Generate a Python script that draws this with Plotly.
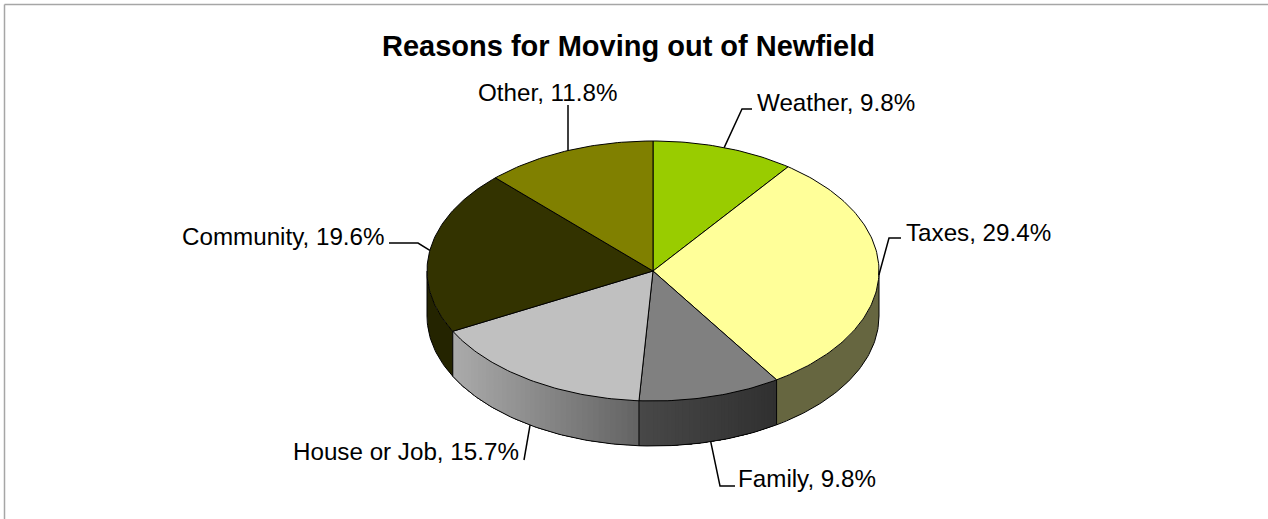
import math
import plotly.graph_objects as go

# ---- data ----
categories = ["Weather", "Taxes", "Family", "House or Job", "Community", "Other"]
percents = [9.8, 29.4, 9.8, 15.7, 19.6, 11.8]
top_colors = ["#99CC00", "#FFFF99", "#808080", "#C0C0C0", "#333300", "#808000"]
side_left = ["#4d6600", "#666640", "#484848", "#ABABAB", "#242400", "#404000"]
side_right = ["#4d6600", "#666640", "#303030", "#636363", "#242400", "#404000"]
title_text = "Reasons for Moving out of Newfield"

# ---- layout constants ----
W, H = 1268, 519
CX, CY, RX, RY, DEPTH = 653, 271, 226, 130, 45
label_pos = [(755, 102.5), (904, 232), (736, 478.5), (521, 451.5), (386.5, 236), (619, 92.5)]
label_anchor = ["left", "left", "left", "right", "right", "right"]
leader_tail = [[(742, 109), (752, 109)], [(889, 238), (901, 238)], [(720, 486), (735, 486)],
               [(524, 460)], [(418, 243), (389, 243)], [(568, 105)]]


def pt(deg, drop=0):
    a = math.radians(deg)
    return CX + RX * math.sin(a), CY - RY * math.cos(a) + drop


def arc(a0, a1, drop=0, step=1.0):
    n = max(2, int(abs(a1 - a0) / step) + 1)
    return [pt(a0 + (a1 - a0) * i / (n - 1), drop) for i in range(n)]


def mix(c0, c1, t):
    p = [int(c0[i:i + 2], 16) for i in (1, 3, 5)]
    q = [int(c1[i:i + 2], 16) for i in (1, 3, 5)]
    return "rgb(%d,%d,%d)" % tuple(round(u + (v - u) * t) for u, v in zip(p, q))


def poly(points, fill=None, line="#000000", width=1.0, closed=True):
    xs = [p[0] for p in points]
    ys = [p[1] for p in points]
    if closed:
        xs.append(xs[0])
        ys.append(ys[0])
    return go.Scatter(x=xs, y=ys, mode="lines", fill="toself" if fill else "none",
                      fillcolor=fill, line=dict(color=line, width=width),
                      hoverinfo="skip", showlegend=False)


total = sum(percents)
bounds = [0.0]
for v in percents:
    bounds.append(bounds[-1] + v / total * 360)

fig = go.Figure()

# side wall: only the front half (90..270 degrees clockwise from top) is visible
for i in range(len(percents)):
    a0, a1 = max(bounds[i], 90), min(bounds[i + 1], 270)
    if a1 <= a0:
        continue
    x0, x1 = pt(a0)[0], pt(a1)[0]
    n = 40 if side_left[i] != side_right[i] else 1
    for k in range(n):
        # each strip runs on to the slice's end, the next one paints over it: no seams
        s0 = a0 + (a1 - a0) * k / n
        s1 = a0 + (a1 - a0) * (k + 1) / n
        xm = pt((s0 + s1) / 2)[0]
        t = (xm - min(x0, x1)) / abs(x1 - x0)
        col = mix(side_left[i], side_right[i], t)
        fig.add_trace(poly(arc(s0, a1) + arc(a1, s0, DEPTH), fill=col, line=col, width=0))
    fig.add_trace(poly(arc(a0, a1, DEPTH), width=1, closed=False))
    if 90 < bounds[i] < 270:
        fig.add_trace(poly([pt(bounds[i]), pt(bounds[i], DEPTH)], width=1, closed=False))
fig.add_trace(poly([pt(90), pt(90, DEPTH)], width=1, closed=False))
fig.add_trace(poly([pt(270), pt(270, DEPTH)], width=1, closed=False))

# top faces
for i in range(len(percents)):
    pts = [(CX, CY)] + arc(bounds[i], bounds[i + 1])
    fig.add_trace(poly(pts, fill=top_colors[i], width=1))

# leader lines, starting on the rim at each slice's middle angle
for i in range(len(percents)):
    mid = (bounds[i] + bounds[i + 1]) / 2
    front = 95 < mid < 265
    start = pt(mid, DEPTH if front else 0)
    fig.add_trace(poly([start] + leader_tail[i], width=1.5, closed=False))

annotations = [
    dict(x=label_pos[i][0], y=label_pos[i][1], xref="x", yref="y",
         text=f"{categories[i]}, {percents[i]}%", showarrow=False,
         xanchor=label_anchor[i], yanchor="middle",
         font=dict(family="Liberation Sans", size=24.2, color="#000000"))
    for i in range(len(percents))
]
annotations.append(dict(x=628, y=46, xref="x", yref="y", text=f"<b>{title_text}</b>",
                        showarrow=False, xanchor="center", yanchor="middle",
                        font=dict(family="Liberation Sans", size=29, color="#000000")))

border = dict(color="#A6A6A6", width=1.5)
fig.update_layout(
    width=W, height=H, margin=dict(l=0, r=0, t=0, b=0),
    paper_bgcolor="#FFFFFF", plot_bgcolor="#FFFFFF", showlegend=False,
    xaxis=dict(range=[0, W], visible=False, fixedrange=True),
    yaxis=dict(range=[H, 0], visible=False, fixedrange=True),
    annotations=annotations,
    shapes=[
        dict(type="line", x0=4.5, x1=W, y0=4.5, y1=4.5, xref="x", yref="y", line=border),
        dict(type="line", x0=4.5, x1=4.5, y0=4.5, y1=H, xref="x", yref="y", line=border),
    ],
)

fig.write_html("out.html", config=dict(displayModeBar=False),
               post_script="document.body.style.margin='0';document.body.style.overflow='hidden';")
